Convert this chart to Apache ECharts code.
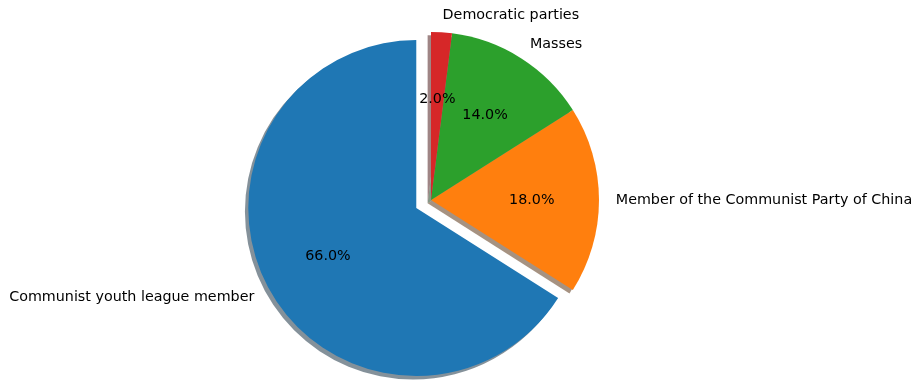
<!DOCTYPE html>
<html>
<head>
<meta charset="utf-8">
<script src="https://cdn.jsdelivr.net/npm/echarts@6/dist/echarts.min.js"></script>
<style>
  html, body { margin: 0; padding: 0; background: #fff; }
  #chart { width: 918px; height: 383px; }
</style>
</head>
<body>
<div id="chart"></div>
<script>
// Political status breakdown
const categories = [
  'Communist youth league member',
  'Member of the Communist Party of China',
  'Masses',
  'Democratic parties'
];
const values = [66, 18, 14, 2];
const explode = [0.1, 0, 0, 0];

// tab10 palette
const colors = ['#1f77b4', '#ff7f0e', '#2ca02c', '#d62728'];

// pie geometry (px)
const cx = 431, cy = 200, R = 168;
const shadowShift = 0.02 * R;
const font = { fontFamily: 'DejaVu Sans', fontSize: 14.3, color: '#000' };

// dark, half-transparent copy of each wedge colour for the drop shadow
function shadowOf(hex) {
  const n = parseInt(hex.slice(1), 16);
  const r = Math.round(((n >> 16) & 255) * 0.3);
  const g = Math.round(((n >> 8) & 255) * 0.3);
  const b = Math.round((n & 255) * 0.3);
  return 'rgba(' + r + ',' + g + ',' + b + ',0.5)';
}

function items(colorFn) {
  return categories.map((name, i) => ({
    name: name,
    value: values[i],
    selected: explode[i] > 0,
    itemStyle: { color: colorFn(i) }
  }));
}

const common = {
  type: 'pie',
  startAngle: 90,
  clockwise: false,
  selectedMode: true,
  selectedOffset: explode[0] * R,
  avoidLabelOverlap: false,
  silent: true,
  animation: false,
  emphasis: { disabled: true },
  select: { itemStyle: { borderWidth: 0 } },
  itemStyle: { borderWidth: 0 },
  labelLine: { show: false }
};

const chart = echarts.init(document.getElementById('chart'), null, { renderer: 'canvas' });
chart.setOption({
  animation: false,
  backgroundColor: '#fff',
  series: [
    // drop shadow beneath the wedges
    Object.assign({}, common, {
      z: 1,
      center: [cx - shadowShift, cy + shadowShift],
      radius: R,
      label: { show: false },
      data: items(i => shadowOf(colors[i]))
    }),
    // wedges with category names outside
    Object.assign({}, common, {
      z: 2,
      center: [cx, cy],
      radius: R,
      label: Object.assign({
        show: true,
        position: 'outside',
        distanceToLabelLine: 0,
        formatter: '{b}'
      }, font),
      labelLine: { show: false, length: 0.1 * R, length2: 0 },
      data: items(i => colors[i])
    }),
    // percentage labels at 0.6 R
    Object.assign({}, common, {
      z: 3,
      center: [cx, cy],
      radius: 2 * (0.6 * R - 3),
      label: Object.assign({
        show: true,
        position: 'inside',
        textBorderWidth: 0,
        formatter: p => p.percent.toFixed(1) + '%'
      }, font),
      data: items(() => 'rgba(0,0,0,0)')
    })
  ]
});
</script>
</body>
</html>
